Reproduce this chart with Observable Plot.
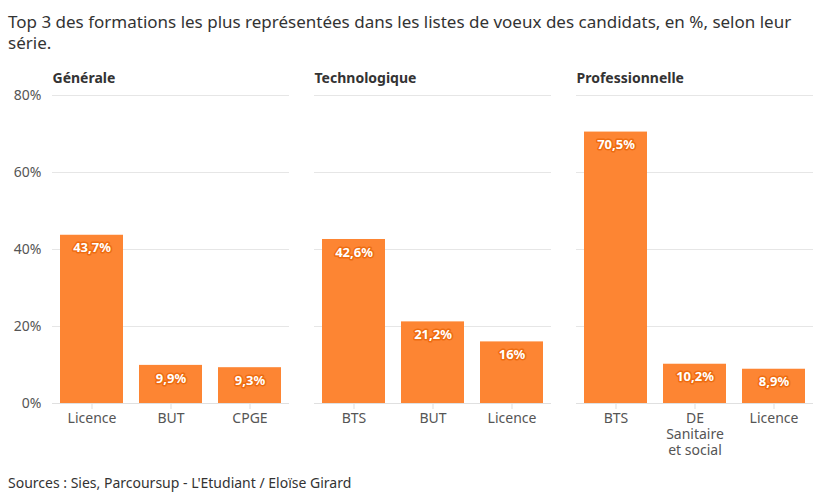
<!DOCTYPE html>
<html>
<head>
<meta charset="utf-8">
<script src="https://cdn.jsdelivr.net/npm/d3@7"></script>
<script src="https://cdn.jsdelivr.net/npm/@observablehq/plot@0.6"></script>
<style>
  html, body { margin: 0; padding: 0; background: #fff; }
  body { width: 822px; height: 493px; font-family: "Noto Sans", sans-serif; color: #333; overflow: hidden; }
  #title { padding: 11px 8px 0 8px; font-size: 17px; line-height: 21px; color: #333; }
  #caption { padding: 11px 8px 0 8px; font-size: 14px; line-height: 18px; color: #333; }
  svg { display: block; }
</style>
</head>
<body>
<div id="title">Top 3 des formations les plus représentées dans les listes de voeux des candidats, en %, selon leur série.</div>
<div id="chart"></div>
<div id="caption">Sources : Sies, Parcoursup - L'Etudiant / Eloïse Girard</div>
<script>
const series = ["Générale", "Technologique", "Professionnelle"];
const formations = [
  ["Licence", "BUT", "CPGE"],
  ["BTS", "BUT", "Licence"],
  ["BTS", "DE\nSanitaire\net social", "Licence"]
];
const values = [
  [43.7, 9.9, 9.3],
  [42.6, 21.2, 16],
  [70.5, 10.2, 8.9]
];
const yTicks = [0, 20, 40, 60, 80];

const data = [];
series.forEach((s, i) => formations[i].forEach((f, j) => {
  data.push({series: s, rank: j, formation: f, value: values[i][j]});
}));

const fmt = v => String(v).replace(".", ",") + "%";
const orange = "#fd8533";

const chart = Plot.plot({
  width: 822,
  height: 410,
  marginLeft: 51,
  marginRight: 7,
  marginTop: 42,
  marginBottom: 60,
  style: {fontFamily: "'Noto Sans', sans-serif", fontSize: "14px", color: "#555", background: "#fff"},
  fx: {domain: series, padding: 0.095, axis: null},
  x: {domain: [0, 1, 2], paddingInner: 0.2, paddingOuter: 0.1},
  y: {domain: [0, 80]},
  marks: [
    Plot.gridY(yTicks, {stroke: "#e6e6e6", strokeOpacity: 1}),
    Plot.axisY(yTicks, {tickSize: 0, tickPadding: 11, tickFormat: d => d + "%", label: null, fill: "#555", fontSize: 14, line: true, stroke: "#e6e6e6", strokeOpacity: 1}),
    Plot.axisX({tickSize: 6, tickFormat: () => "", label: null, stroke: "#dddddd", strokeOpacity: 1}),
    Plot.barY(data, {fx: "series", x: "rank", y: "value", fill: orange}),
    Plot.ruleY([0], {stroke: "#e0e0e0"}),
    Plot.text(data, {fx: "series", x: "rank", y: "value", text: d => fmt(d.value), dy: 13, fill: "white", stroke: "#ee6c10", strokeWidth: 3, fontWeight: "bold", fontSize: 13}),
    Plot.text(data, {fx: "series", x: "rank", text: "formation", frameAnchor: "bottom", lineAnchor: "top", dy: 8, fill: "#555", fontSize: 14, lineHeight: 1.15}),
    Plot.text(series, {fx: d => d, text: d => d, frameAnchor: "top-left", textAnchor: "start", dy: -22, fontWeight: "bold", fontSize: 14, fill: "#333"})
  ]
});
document.getElementById("chart").appendChild(chart);
</script>
</body>
</html>
